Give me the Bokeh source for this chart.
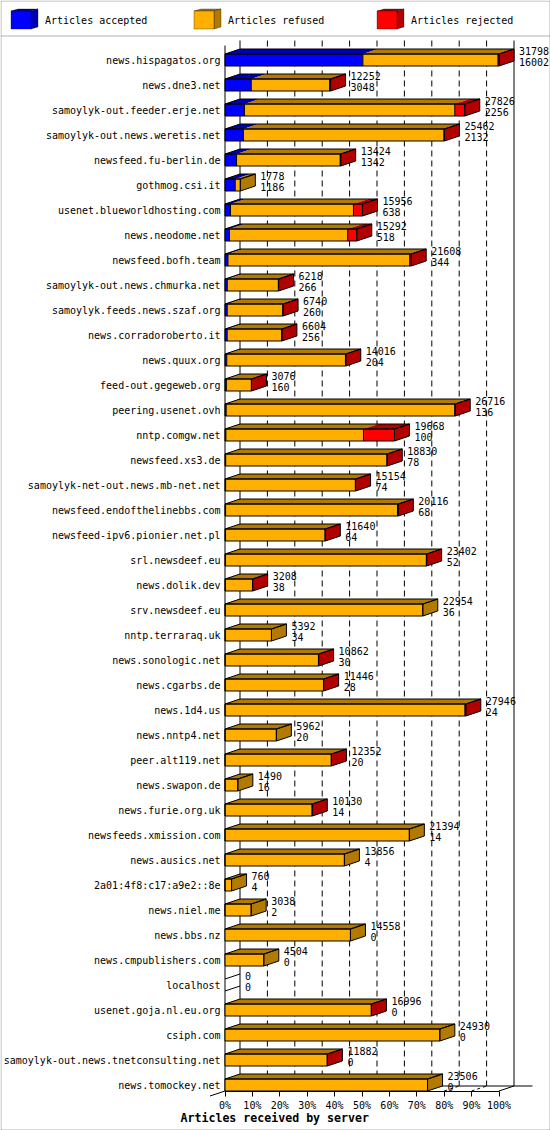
from bokeh.plotting import figure
from bokeh.models import Range1d, LinearAxis, FixedTicker, PrintfTickFormatter, PolyAnnotation
from bokeh.embed import file_html
from bokeh.resources import INLINE
from bokeh.core.properties import value

servers = ["news.hispagatos.org","news.dne3.net","samoylyk-out.feeder.erje.net","samoylyk-out.news.weretis.net",
 "newsfeed.fu-berlin.de","gothmog.csi.it","usenet.blueworldhosting.com","news.neodome.net","newsfeed.bofh.team",
 "samoylyk-out.news.chmurka.net","samoylyk.feeds.news.szaf.org","news.corradoroberto.it","news.quux.org",
 "feed-out.gegeweb.org","peering.usenet.ovh","nntp.comgw.net","newsfeed.xs3.de","samoylyk-net-out.news.mb-net.net",
 "newsfeed.endofthelinebbs.com","newsfeed-ipv6.pionier.net.pl","srl.newsdeef.eu","news.dolik.dev","srv.newsdeef.eu",
 "nntp.terraraq.uk","news.sonologic.net","news.cgarbs.de","news.1d4.us","news.nntp4.net","peer.alt119.net",
 "news.swapon.de","news.furie.org.uk","newsfeeds.xmission.com","news.ausics.net","2a01:4f8:c17:a9e2::8e",
 "news.niel.me","news.bbs.nz","news.cmpublishers.com","localhost","usenet.goja.nl.eu.org","csiph.com",
 "samoylyk-out.news.tnetconsulting.net","news.tomockey.net"]
totals = [31798,12252,27826,25462,13424,1778,15956,15292,21608,6218,6740,6604,14016,3076,26716,19668,18830,15154,
 20116,11640,23402,3208,22954,5392,10862,11446,27946,5962,12352,1490,10130,21394,13856,760,3038,14558,4504,0,
 16996,24930,11882,23506]
accepted = [16002,3048,2256,2132,1342,1186,638,518,344,266,260,256,204,160,136,100,78,74,68,64,52,38,36,34,30,28,24,
 20,20,16,14,14,4,4,2,0,0,0,0,0,0,0]
# (no printed figure for this series)
rejected = [120,110,1160,60,60,0,1050,1050,170,30,30,30,40,20,50,3600,40,30,100,30,40,20,0,0,20,20,110,0,20,0,20,0,0,
 0,0,0,0,0,20,0,20,0]
percent_ticks = [0,10,20,30,40,50,60,70,80,90,100]
legend_names = ["Articles accepted","Articles refused","Articles rejected"]
x_axis_title = "Articles received by server"

FRONT = ["#0000FF","#FFAF00","#FF0000"]
DARK = ["#0000B2","#B27A00","#B20000"]
MONO = "DejaVu Sans Mono"
W, H = 550, 1130
PX_PCT = 2.74      # pixels per percent
PX_ROW = 25.0      # pixels per row
X0, Y0 = 224.5, 59.5
DX = 15 / PX_PCT   # depth in percent
DY = 5 / PX_ROW    # depth in rows
HALF = 6 / PX_ROW  # half bar height in rows

def xp(px): return (px - X0) / PX_PCT
def yp(px): return (px - Y0) / PX_ROW

p = figure(width=W, height=H, output_backend="svg", toolbar_location=None, min_border=0,
           x_range=Range1d(xp(0), xp(W)), y_range=Range1d(yp(H), yp(0)),
           x_axis_type=None, y_axis_type=None, outline_line_color=None, background_fill_color="white")
p.grid.visible = False
p.styles = {"position": "absolute", "left": "0", "top": "0"}

rows = list(range(len(servers)))
ybot = rows[-1] + HALF

xax = LinearAxis(ticker=FixedTicker(ticks=percent_ticks), formatter=PrintfTickFormatter(format="%d%%"),
                 fixed_location=ybot, bounds=(0, 100),
                 major_tick_out=5, major_tick_in=0, minor_tick_line_color=None, major_label_standoff=4,
                 major_label_text_font=MONO, major_label_text_font_size="10px", major_label_text_color="black",
                 axis_line_color="black", major_tick_line_color="black")
p.add_layout(xax, "below")
yax = LinearAxis(ticker=FixedTicker(ticks=rows), major_label_overrides={r: s for r, s in zip(rows, servers)},
                 fixed_location=xp(224),
                 major_tick_out=0, major_tick_in=0, minor_tick_out=0, minor_tick_in=0,
                 major_tick_line_color=None, minor_tick_line_color=None, axis_line_color=None,
                 major_label_standoff=4, major_label_text_font=MONO, major_label_text_font_size="10px",
                 major_label_text_color="black")
p.add_layout(yax, "left")

# walls and floor
ytop_back, ytop_front = yp(40), yp(45)
p.segment([0, DX, 100+DX], [ytop_front, ytop_back, ytop_back], [0, DX, 100+DX], [ybot, ybot-DY, ybot-DY],
          line_color="black", line_width=1)
p.segment([DX, 100, 0], [ybot-DY, ybot, ybot], [xp(532), 100+DX, -DX], [ybot-DY, ybot-DY, ybot+DY],
          line_color="black", line_width=1)
grid = percent_ticks[1:-1]
p.segment([g+DX for g in grid], [ytop_back]*len(grid), [g+DX for g in grid], [ybot-DY]*len(grid),
          line_color="black", line_width=1, line_dash="6 4")
p.segment(grid, [ybot]*len(grid), [g+DX for g in grid], [ybot-DY]*len(grid),
          line_color="black", line_width=1, line_dash="3 3")

# bars
scale = 100 / max(totals)
lab_x, lab_y, lab_t, lab_off = [], [], [], []
for r, (tot, acc, rej) in enumerate(zip(totals, accepted, rejected)):
    parts = [acc, tot-acc-rej, rej]
    x = 0.0
    y1, y2 = r-HALF, r+HALF
    last = None
    for k, v in enumerate(parts):
        if v <= 0:
            continue
        w = v*scale
        p.patch([x+DX, x+w+DX, x+w, x], [y1-DY, y1-DY, y1, y1], fill_color=DARK[k], line_color=None)
        p.quad(left=x, right=x+w, top=y1, bottom=y2, fill_color=FRONT[k], line_color=None)
        if x > 0:
            p.segment([x], [y1], [x], [y2], line_color="black", line_width=1)
        x += w
        last = k
    if last is None:
        p.segment([0, 0], [y1, y2], [DX, DX], [y1-DY, y2-DY], line_color="black", line_width=1)
    else:
        p.patch([x, x+DX, x+DX, x], [y1, y1-DY, y2-DY, y2], fill_color=DARK[last], line_color="black", line_width=1)
        p.patch([0, DX, x+DX, x, 0], [y1, y1-DY, y1-DY, y1, y1], fill_color=None, line_color="black", line_width=1)
        p.quad(left=0, right=x, top=y1, bottom=y2, fill_color=None, line_color="black", line_width=1)
    xl = x + DX + 5/PX_PCT
    lab_x += [xl, xl]
    lab_y += [yp(Y0-9)+r, yp(Y0+2)+r]
    lab_t += [str(tot), str(acc)]

p.text(lab_x, lab_y, text=lab_t, text_font=value(MONO), text_font_size="10px", text_color="black",
       text_baseline="middle", text_align="left")

# page frame, legend separator, titles: screen units count up from the lower-left corner
def poly(xs, ys, **kw):
    p.add_layout(PolyAnnotation(xs=list(xs), ys=[H - v for v in ys], xs_units="screen", ys_units="screen", **kw))

poly([0.5, W-0.5, W-0.5, 0.5], [0.5, 0.5, H-0.5, H-0.5], fill_color=None, fill_alpha=0, line_color="black", line_width=1)
poly([0.5, W-0.5], [35.5, 35.5], fill_color=None, fill_alpha=0, line_color="black", line_width=1)
for k, (name, bx) in enumerate(zip(legend_names, [10.5, 193.5, 376.5])):
    fx, fy, w, h, dx, dy = bx, 10.5, 20, 18, 7, 2
    poly([fx, fx+dx, fx+w+dx, fx+w], [fy, fy-dy, fy-dy, fy], fill_color=DARK[k], fill_alpha=1, line_color="black")
    poly([fx+w, fx+w+dx, fx+w+dx, fx+w], [fy, fy-dy, fy+h-dy, fy+h], fill_color=DARK[k], fill_alpha=1, line_color="black")
    poly([fx, fx+w, fx+w, fx], [fy, fy, fy+h, fy+h], fill_color=FRONT[k], fill_alpha=1, line_color="black")
    p.text([xp(fx+w+14)], [yp(20)], text=[name], text_font=value(MONO), text_font_size="10px", text_color="black",
           text_baseline="middle", text_align="left")
p.text([xp(180)], [yp(1117)], text=[x_axis_title], text_font=value(MONO), text_font_style="bold",
       text_font_size="11.6px", text_color="black", text_baseline="middle", text_align="left")

open("out.html", "w").write(file_html(p, INLINE))
